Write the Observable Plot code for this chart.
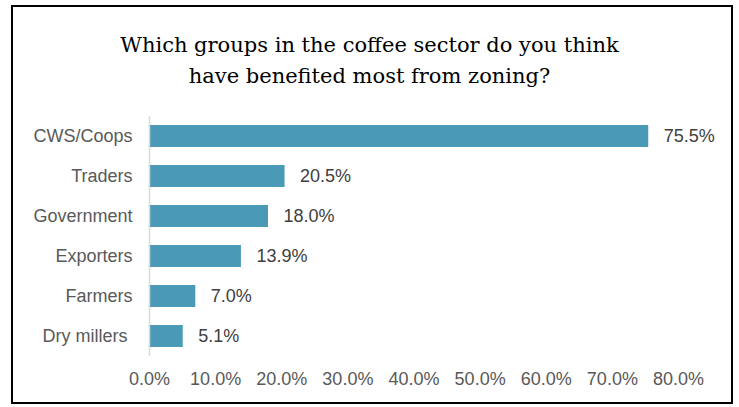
<!DOCTYPE html>
<html>
<head>
<meta charset="utf-8">
<script src="https://cdn.jsdelivr.net/npm/d3@7"></script>
<script src="https://cdn.jsdelivr.net/npm/@observablehq/plot@0.6"></script>
<style>
  html, body { margin: 0; padding: 0; background: #fff; }
  #wrap { position: relative; width: 739px; height: 407px; overflow: hidden; background: #fff; }
  #border { position: absolute; left: 11px; top: 5px; width: 722px; height: 399px; box-sizing: border-box; border: 2.5px solid #000; pointer-events: none; }
  #title { position: absolute; left: 0; top: 30px; width: 739px; text-align: center; font-family: "DejaVu Serif", serif; font-size: 21px; line-height: 31px; color: #000; }
  #chart { position: absolute; left: 0; top: 0; }
</style>
</head>
<body>
<div id="wrap">
  <div id="chart"></div>
  <div id="title">Which groups in the coffee sector do you think<br>have benefited most from zoning?</div>
  <div id="border"></div>
</div>
<script>
const categories = ["CWS/Coops", "Traders", "Government", "Exporters", "Farmers", "Dry millers\u00a0"];
const values = [75.5, 20.5, 18.0, 13.9, 7.0, 5.1];
const xTicks = [0, 10, 20, 30, 40, 50, 60, 70, 80];

const data = categories.map((c, i) => ({ group: c, value: values[i] }));
const fmt = v => v.toFixed(1) + "%";

const chart = Plot.plot({
  width: 739,
  height: 407,
  marginLeft: 149,
  marginRight: 61,
  marginTop: 116,
  marginBottom: 51,
  style: { fontFamily: "'Liberation Sans', Arial, sans-serif", fontSize: "18px", background: "transparent" },
  x: { domain: [0, 80], ticks: xTicks, tickFormat: fmt, tickSize: 0, tickPadding: 16, label: null },
  y: { domain: categories, paddingInner: 0.45, paddingOuter: 0.225, tickSize: 0, tickPadding: 17, label: null },
  marks: [
    Plot.barX(data, { x: "value", y: "group", fill: "#4a9ab7" }),
    Plot.ruleX([0], { stroke: "#d9d9d9", strokeWidth: 1.5 }),
    Plot.text(data, { x: "value", y: "group", text: d => fmt(d.value), textAnchor: "start", dx: 15, fill: "#404040", fontSize: 18 }),
    Plot.axisX({ ticks: xTicks, tickFormat: fmt, tickSize: 0, tickPadding: 16, fill: "#595959", fontSize: 18, label: null }),
    Plot.axisY({ tickSize: 0, tickPadding: 17, fill: "#595959", fontSize: 18, label: null })
  ]
});
document.getElementById("chart").appendChild(chart);
</script>
</body>
</html>
